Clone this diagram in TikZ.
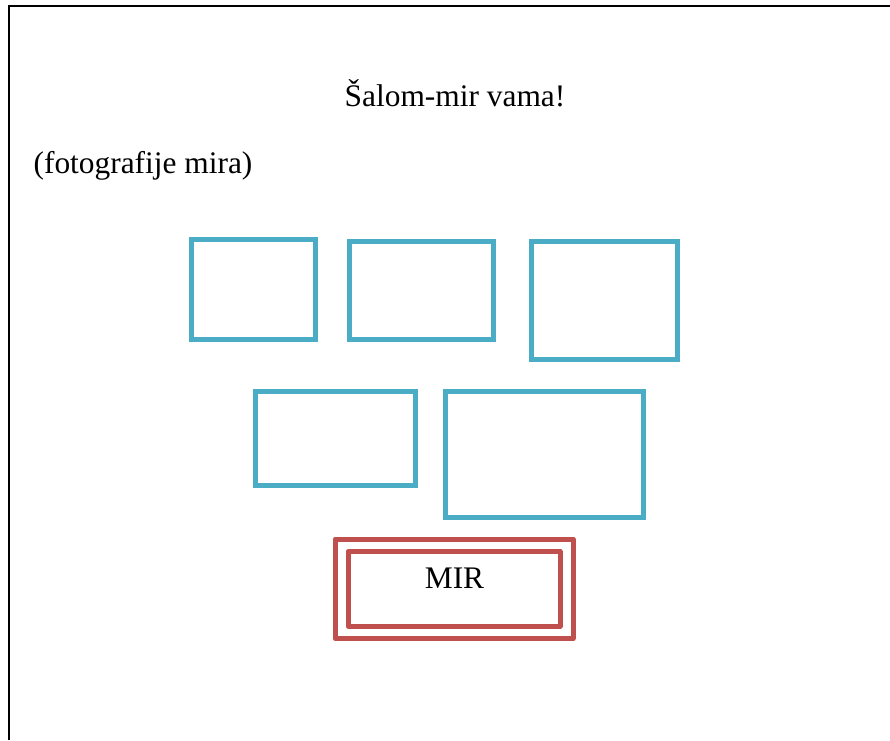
\documentclass[tikz,border=0pt]{standalone}
\usepackage{fontspec}
\setmainfont{Liberation Serif}
\definecolor{frameblue}{HTML}{4BACC6}
\definecolor{framered}{HTML}{C0504D}
\tikzset{
  photo/.style={draw=frameblue, line width=5pt, inner sep=0pt, rectangle},
  mirbox/.style={draw=framered, line width=5pt, inner sep=0pt, rectangle, line join=round},
  txt/.style={inner sep=0pt, anchor=base, font=\fontsize{31.4}{36}\selectfont}
}
\begin{document}
\begin{tikzpicture}[x=1pt,y=-1pt]
\useasboundingbox (0,0) rectangle (890,740);
\fill[white] (0,0) rectangle (890,740);
\coordinate (tl) at (9,6);
\coordinate (tr) at (890,6);
\coordinate (bl) at (9,740);
\draw[line width=2pt] (bl) -- (tl) -- (tr);
\node[txt] (title) at (455,106) {Šalom-mir vama!};
\node[txt] (sub) at (143,173) {(fotografije mira)};
\node[photo, minimum width=124pt, minimum height=100pt] (p1) at (253,289) {};
\node[photo, minimum width=144pt, minimum height=98pt] (p2) at (421,290) {};
\node[photo, minimum width=146pt, minimum height=118pt] (p3) at (604,300) {};
\node[photo, minimum width=160pt, minimum height=94pt] (p4) at (335,438) {};
\node[photo, minimum width=198pt, minimum height=126pt] (p5) at (544,454) {};
\node[mirbox, minimum width=238pt, minimum height=99.5pt] (mo) at (454,588.75) {};
\node[mirbox, minimum width=212pt, minimum height=74.5pt] (mi) at (454,588.75) {};
\node[txt] (mir) at (454.5,588) {MIR};
\end{tikzpicture}
\end{document}
